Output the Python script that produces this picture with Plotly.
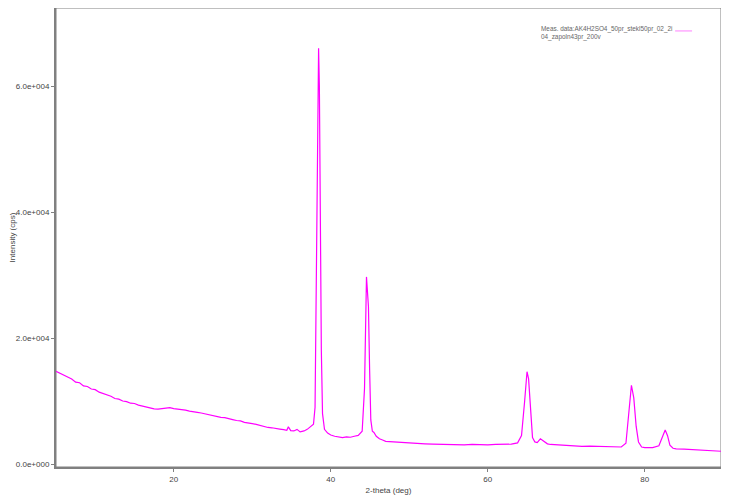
import plotly.graph_objects as go

# XRD pattern
two_theta = [5.0, 5.5, 6.0, 6.5, 7.0, 7.5, 8.0, 8.5, 9.0, 9.5, 10.0, 10.5, 11.0, 11.5,
             12.0, 12.5, 13.0, 13.5, 14.0, 14.5, 15.0, 15.5, 16.0, 16.5, 17.0, 17.5,
             18.0, 18.5, 19.0, 19.5, 20.0, 20.5, 21.0, 21.5, 22.0, 22.5, 23.0, 23.5,
             24.0, 24.5, 25.0, 25.5, 26.0, 26.5, 27.0, 27.5, 28.0, 28.5, 29.0, 29.5,
             30.0, 30.5, 31.0, 31.5, 32.0, 32.5, 33.0, 33.5, 34.0, 34.4, 34.6, 34.9,
             35.3, 35.7, 36.1, 36.6, 37.0, 37.5, 37.8, 38.0, 38.15, 38.3, 38.45, 38.55,
             38.65, 38.8, 38.95, 39.2, 39.6, 40.0, 40.5, 41.0, 41.5, 42.0, 42.5, 43.0,
             43.5, 44.0, 44.3, 44.55, 44.8, 44.95, 45.1, 45.3, 45.5, 45.8, 46.2, 46.6,
             47.0, 48.0, 49.0, 50.0, 51.0, 52.0, 53.0, 54.0, 55.0, 56.0, 57.0, 58.0,
             59.0, 60.0, 61.0, 62.0, 63.0, 63.8, 64.3, 64.7, 65.0, 65.2, 65.45, 65.7,
             66.0, 66.3, 66.7, 67.1, 67.6, 68.0, 69.0, 70.0, 71.0, 72.0, 73.0, 74.0,
             75.0, 76.0, 77.0, 77.6, 77.95, 78.3, 78.6, 78.9, 79.2, 79.6, 80.0, 81.0,
             81.8, 82.2, 82.6, 82.9, 83.2, 83.6, 84.0, 85.0, 86.0, 87.0, 88.0, 89.0, 90.0]
intensity = [14700, 14400, 14100, 13700, 13500, 13000, 12900, 12400, 12300, 11900, 11800, 11400, 11200, 10900,
             10750, 10400, 10300, 10000, 9900, 9650, 9600, 9350, 9200, 8950, 8900, 8750,
             8700, 8750, 8800, 8950, 8800, 8750, 8600, 8550, 8400, 8350, 8200, 8100,
             7950, 7850, 7600, 7550, 7400, 7350, 7150, 7050, 6900, 6850, 6600, 6550,
             6400, 6300, 6100, 6000, 5800, 5750, 5600, 5550, 5450, 5350, 5900, 5300,
             5250, 5500, 5100, 5250, 5500, 6000, 6300, 9000, 25000, 45000, 66000, 60000,
             40000, 18000, 8000, 5500, 4900, 4600, 4400, 4300, 4200, 4300, 4250, 4400,
             4550, 5200, 12000, 29700, 25000, 15000, 7000, 5200, 5000, 4400, 4000, 3800,
             3600, 3500, 3400, 3300, 3250, 3200, 3150, 3100, 3150, 3100, 3050, 3100,
             3050, 3050, 3100, 3100, 3150, 3350, 4500, 10000, 14650, 13500, 8000, 4200,
             3500, 3400, 4000, 3600, 3200, 3100, 3000, 2900, 2850, 2800, 2850, 2800,
             2750, 2700, 2700, 3300, 8000, 12500, 10500, 6000, 3500, 2700, 2600, 2600,
             2900, 4300, 5400, 4500, 3000, 2500, 2400, 2350, 2300, 2250, 2200, 2100, 2000]

y_ticks = [0, 20000, 40000, 60000]
y_tick_labels = ["0.0e+000", "2.0e+004", "4.0e+004", "6.0e+004"]
x_ticks = [20, 40, 60, 80]

trace_name = "Meas. data:AK4H2SO4_50pr_stekl50pr_02_2i<br>04_zapoln43pr_200v"

fig = go.Figure()
fig.add_trace(go.Scatter(x=two_theta, y=intensity, mode="lines",
                         line=dict(color="#ff00ff", width=1.2), showlegend=False))

# thin frame around the plot area
fig.add_shape(type="rect", xref="paper", yref="paper", x0=0, x1=1, y0=0, y1=1,
              line=dict(color="#808080", width=1), layer="below")

# legend drawn by hand: text with the line sample on its right
fig.add_annotation(xref="paper", yref="paper", x=0.7256, y=0.968, xanchor="left", yanchor="top",
                   text=trace_name, showarrow=False, align="left",
                   font=dict(size=6.4, color="#666666"))
fig.add_shape(type="line", xref="paper", yref="paper", x0=0.931, x1=0.9565, y0=0.950, y1=0.950,
              line=dict(color="#ff80ff", width=1))

fig.update_xaxes(range=[5, 89.71], tickvals=x_ticks, ticks="outside", ticklen=3,
                 tickcolor="#808080", showgrid=False, zeroline=False,
                 showline=True, linecolor="#808080", linewidth=2,
                 title=dict(text="2-theta (deg)", font=dict(size=8, color="#444444"), standoff=5),
                 tickfont=dict(size=8, color="#444444"))
fig.update_yaxes(range=[-476, 72380], tickvals=y_ticks, ticktext=y_tick_labels,
                 ticks="outside", ticklen=3, tickcolor="#808080",
                 showgrid=False, zeroline=False,
                 showline=True, linecolor="#808080", linewidth=2,
                 title=dict(text="Intensity (cps)", font=dict(size=8, color="#444444"), standoff=2),
                 tickfont=dict(size=8, color="#444444"))

fig.update_layout(width=713, height=488,
                  margin=dict(l=46, r=0, t=0, b=29),
                  plot_bgcolor="white", paper_bgcolor="white",
                  font=dict(family="Liberation Sans, Arial, sans-serif"))

fig.write_html("out.html")
